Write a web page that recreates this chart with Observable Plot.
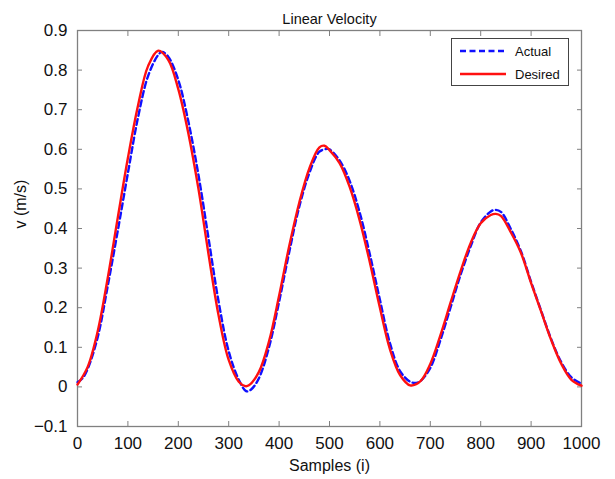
<!DOCTYPE html>
<html>
<head>
<meta charset="utf-8">
<script src="https://cdn.jsdelivr.net/npm/d3@7"></script>
<script src="https://cdn.jsdelivr.net/npm/@observablehq/plot@0.6"></script>
<style>
  html, body { margin: 0; padding: 0; background: #fff; }
  #wrap { position: relative; width: 615px; height: 479px; font-family: "Liberation Sans", Arial, Helvetica, sans-serif; }
  #legend { position: absolute; left: 451px; top: 38px; width: 118px; height: 48px; border: 1px solid #444; background: #fff; box-sizing: border-box; font-size: 13px; color: #111; }
  #legend .row { position: absolute; left: 8px; height: 16px; display: flex; align-items: center; }
  #legend svg { margin-right: 9px; }
</style>
</head>
<body>
<div id="wrap"></div>
<script>
const title = "Linear Velocity";
const xLabel = "Samples (i)";
const yLabel = "v (m/s)";
const xTicks = [0, 100, 200, 300, 400, 500, 600, 700, 800, 900, 1000];
const yTicks = [-0.1, 0, 0.1, 0.2, 0.3, 0.4, 0.5, 0.6, 0.7, 0.8, 0.9];
const seriesNames = ["Actual", "Desired"];

const desiredSamples = [0, 20, 40, 60, 80, 100, 120, 140, 160, 180, 200, 220, 240, 260, 280, 300, 320, 333, 340, 360, 380, 400, 420, 440, 460, 480, 490, 500, 520, 540, 560, 580, 600, 620, 640, 660, 680, 700, 720, 740, 760, 780, 800, 820, 830, 840, 860, 880, 900, 920, 940, 960, 980, 1000];
const desiredValues = [0.006, 0.05, 0.14, 0.275, 0.428, 0.578, 0.71, 0.81, 0.849, 0.826, 0.752, 0.64, 0.5, 0.335, 0.18, 0.068, 0.013, 0.002, 0.004, 0.038, 0.115, 0.23, 0.355, 0.465, 0.552, 0.605, 0.609, 0.598, 0.565, 0.505, 0.42, 0.315, 0.2, 0.095, 0.03, 0.004, 0.014, 0.058, 0.13, 0.212, 0.292, 0.363, 0.413, 0.434, 0.437, 0.432, 0.39, 0.338, 0.262, 0.19, 0.118, 0.058, 0.018, 0.003];

const actualSamples = [0, 10, 20, 40, 60, 80, 100, 120, 140, 160, 168, 180, 200, 220, 240, 260, 280, 300, 320, 335, 345, 360, 380, 400, 420, 440, 460, 480, 495, 500, 520, 540, 560, 580, 600, 620, 640, 660, 672, 680, 700, 720, 740, 760, 780, 800, 820, 828, 840, 860, 880, 900, 920, 940, 960, 980, 1000];
const actualValues = [0.012, 0.022, 0.045, 0.125, 0.255, 0.395, 0.54, 0.68, 0.785, 0.838, 0.846, 0.834, 0.775, 0.67, 0.535, 0.375, 0.215, 0.09, 0.018, -0.011, -0.006, 0.022, 0.1, 0.215, 0.34, 0.455, 0.54, 0.594, 0.601, 0.6, 0.572, 0.52, 0.44, 0.335, 0.22, 0.11, 0.04, 0.013, 0.01, 0.014, 0.048, 0.118, 0.2, 0.283, 0.355, 0.415, 0.443, 0.447, 0.442, 0.398, 0.342, 0.265, 0.192, 0.12, 0.062, 0.024, 0.008];

const desired = desiredSamples.map((s, i) => ({s, v: desiredValues[i]}));
const actual = actualSamples.map((s, i) => ({s, v: actualValues[i]}));

const axisColor = "#808080";
const font = "Liberation Sans, Arial, Helvetica, sans-serif";

const chart = Plot.plot({
  width: 615,
  height: 479,
  marginLeft: 77,
  marginRight: 34,
  marginTop: 30,
  marginBottom: 53,
  style: {fontFamily: font, fontSize: "17px", color: "#111", background: "#fff"},
  x: {domain: [0, 1000]},
  y: {domain: [-0.1, 0.9]},
  marks: [
    Plot.axisX(xTicks, {anchor: "bottom", tickSize: 0, tickPadding: 10, label: null, fontSize: 17, tickFormat: d => String(d)}),
    Plot.axisX(xTicks, {anchor: "bottom", tickSize: -5, tickFormat: () => "", label: null, stroke: axisColor}),
    Plot.axisX(xTicks, {anchor: "top", tickSize: -5, tickFormat: () => "", label: null, stroke: axisColor}),
    Plot.axisY(yTicks, {anchor: "left", tickSize: 0, tickPadding: 10, label: null, fontSize: 17, tickFormat: d => d3.format("")(+d.toFixed(1))}),
    Plot.axisY(yTicks, {anchor: "left", tickSize: -5, tickFormat: () => "", label: null, stroke: axisColor}),
    Plot.axisY(yTicks, {anchor: "right", tickSize: -5, tickFormat: () => "", label: null, stroke: axisColor}),
    Plot.frame({stroke: axisColor, strokeWidth: 1.3}),
    Plot.line(actual, {x: "s", y: "v", stroke: "#1010ff", strokeWidth: 2.4, strokeDasharray: "6,3.5", curve: "catmull-rom"}),
    Plot.line(desired, {x: "s", y: "v", stroke: "#ff1010", strokeWidth: 2.4, curve: "catmull-rom"}),
    Plot.text([title], {frameAnchor: "top", dy: -17, fontSize: 14.5, fill: "#111"}),
    Plot.text([xLabel], {frameAnchor: "bottom", dy: 44, fontSize: 16, fill: "#111"}),
    Plot.text([yLabel], {frameAnchor: "left", dx: -57, rotate: -90, fontSize: 16, fill: "#111"})
  ]
});

const wrap = document.getElementById("wrap");
wrap.appendChild(chart);

const legend = document.createElement("div");
legend.id = "legend";
const styles = [
  {color: "#1010ff", dash: "6,3.5", top: 4},
  {color: "#ff1010", dash: null, top: 27}
];
seriesNames.forEach((name, i) => {
  const row = document.createElement("div");
  row.className = "row";
  row.style.top = styles[i].top + "px";
  row.innerHTML = `<svg width="46" height="6"><line x1="0" y1="3" x2="46" y2="3" stroke="${styles[i].color}" stroke-width="2.4" ${styles[i].dash ? `stroke-dasharray="${styles[i].dash}"` : ""}/></svg><span>${name}</span>`;
  legend.appendChild(row);
});
wrap.appendChild(legend);
</script>
</body>
</html>
